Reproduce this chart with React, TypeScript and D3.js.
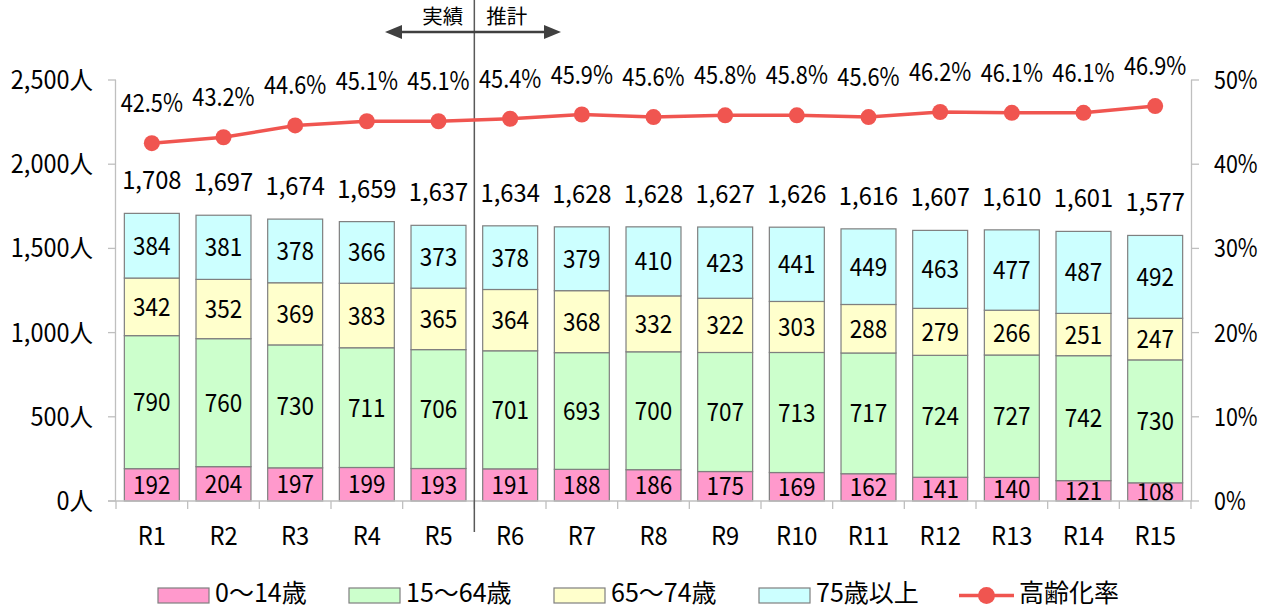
import React from "react";
import * as d3 from "d3";

const categories = ["R1","R2","R3","R4","R5","R6","R7","R8","R9","R10","R11","R12","R13","R14","R15"];
const age0to14 = [192,204,197,199,193,191,188,186,175,169,162,141,140,121,108];
const age15to64 = [790,760,730,711,706,701,693,700,707,713,717,724,727,742,730];
const age65to74 = [342,352,369,383,365,364,368,332,322,303,288,279,266,251,247];
const age75plus = [384,381,378,366,373,378,379,410,423,441,449,463,477,487,492];
const totals = [1708,1697,1674,1659,1637,1634,1628,1628,1627,1626,1616,1607,1610,1601,1577];
const agingRate = [42.5,43.2,44.6,45.1,45.1,45.4,45.9,45.6,45.8,45.8,45.6,46.2,46.1,46.1,46.9];
const leftTicks = [0,500,1000,1500,2000,2500];
const rightTicks = [0,10,20,30,40,50];
const seriesNames = ["0〜14歳","15〜64歳","65〜74歳","75歳以上"];
const seriesColors = ["#FF99CC","#CCFFCC","#FFFFCC","#CCFFFF"];
const lineName = "高齢化率";
const lineColor = "#F05550";
const actualLabel = "実績";
const forecastLabel = "推計";
const splitIndex = 5;

const FONT = "'Noto Sans CJK JP', 'Noto Sans', sans-serif";

function ST({ x, y, text, anchor = "middle", sx = 0.9, fs = 25, dy = "0.36em" }: any) {
  return (
    <text transform={`translate(${x},${y}) scale(${sx},1)`} textAnchor={anchor} dy={dy} fontSize={fs} fill="#000">
      {text}
    </text>
  );
}

export default function App() {
  const W = 1270, H = 609;
  const left = 116, right = 1191, top = 80, bottom = 501;
  const x = d3.scaleBand<string>().domain(categories).range([left, right]).paddingInner(0.233).paddingOuter(0.1165);
  const y = d3.scaleLinear().domain([0, 2500]).range([bottom, top]);
  const y2 = d3.scaleLinear().domain([0, 50]).range([bottom, top]);
  const rows = categories.map((c, i) => ({ c, s0: age0to14[i], s1: age15to64[i], s2: age65to74[i], s3: age75plus[i] }));
  const keys = ["s0","s1","s2","s3"];
  const stack = d3.stack<any>().keys(keys)(rows);
  const cx = (c: string) => (x(c) as number) + x.bandwidth() / 2;
  const line = d3.line<number>().x((_, i) => cx(categories[i])).y(d => y2(d));
  const fmt = d3.format(",");
  const step = x.step();
  const splitX = left + step * splitIndex;
  const arrowY = 32;
  const axisC = "#BFBFBF";

  return (
    <svg width={W} height={H} style={{ position: "absolute", left: 0, top: 0, background: "#fff" }} fontFamily={FONT}>
      <rect width={W} height={H} fill="#fff" />
      {/* axes */}
      <line x1={left - 0.5} x2={left - 0.5} y1={top} y2={bottom} stroke={axisC} strokeWidth={1.3} />
      <line x1={right + 0.5} x2={right + 0.5} y1={top} y2={bottom} stroke={axisC} strokeWidth={1.3} />
      {leftTicks.map(t => (
        <g key={"l" + t}>
          <line x1={left - 8} x2={left} y1={y(t)} y2={y(t)} stroke={axisC} strokeWidth={1.3} />
          <ST x={93} y={y(t)} text={fmt(t) + "人"} anchor="end" sx={0.94} />
        </g>
      ))}
      {rightTicks.map(t => (
        <g key={"r" + t}>
          <line x1={right} x2={right + 8} y1={y2(t)} y2={y2(t)} stroke={axisC} strokeWidth={1.3} />
          <ST x={1214} y={y2(t)} text={t + "%"} anchor="start" sx={0.86} />
        </g>
      ))}
      {/* category ticks */}
      {d3.range(categories.length + 1).map(i => (
        <line key={"ct" + i} x1={left + step * i} x2={left + step * i} y1={bottom} y2={bottom + 8} stroke={axisC} strokeWidth={1.3} />
      ))}
      {/* bars */}
      {stack.map((s, si) => (
        <g key={"s" + si}>
          {s.map((d, i) => (
            <g key={i}>
              <rect x={x(categories[i])} y={y(d[1])} width={x.bandwidth()} height={y(d[0]) - y(d[1])}
                fill={seriesColors[si]} stroke="#7F7F7F" strokeWidth={1.2} />
              <ST x={cx(categories[i])} y={(y(d[0]) + y(d[1])) / 2} text={String(d[1] - d[0])} sx={0.9} />
            </g>
          ))}
        </g>
      ))}
      <line x1={left} x2={right} y1={bottom} y2={bottom} stroke={axisC} strokeWidth={1.3} />
      <line x1={left - 8} x2={left} y1={bottom} y2={bottom} stroke={axisC} strokeWidth={1.3} />
      {/* totals */}
      {totals.map((t, i) => (
        <ST key={"t" + i} x={cx(categories[i])} y={y(t) - 24} text={fmt(t)} dy="0" sx={0.95} />
      ))}
      {/* category labels */}
      {categories.map(c => (
        <ST key={"c" + c} x={cx(c)} y={536} text={c} sx={0.95} />
      ))}
      {/* divider */}
      <line x1={splitX} x2={splitX} y1={0} y2={532} stroke="#595959" strokeWidth={1.5} />
      {/* arrows */}
      <line x1={395} x2={551} y1={arrowY} y2={arrowY} stroke="#404040" strokeWidth={2.5} />
      <path d={`M385,${arrowY} L402,${arrowY - 7} L402,${arrowY + 7} Z`} fill="#404040" />
      <path d={`M561,${arrowY} L544,${arrowY - 7} L544,${arrowY + 7} Z`} fill="#404040" />
      <text x={splitX - 11} y={17} dy="0.36em" textAnchor="end" fontSize={20.5} fill="#000">{actualLabel}</text>
      <text x={splitX + 12} y={17} dy="0.36em" textAnchor="start" fontSize={20.5} fill="#000">{forecastLabel}</text>
      {/* line */}
      <path d={line(agingRate) || ""} fill="none" stroke={lineColor} strokeWidth={3.5} />
      {agingRate.map((r, i) => (
        <g key={"p" + i}>
          <circle cx={cx(categories[i])} cy={y2(r)} r={8} fill={lineColor} />
          <ST x={cx(categories[i])} y={y2(r) - 40} text={r.toFixed(1) + "%"} sx={0.87} />
        </g>
      ))}
      {/* legend */}
      {seriesNames.map((n, i) => {
        const lx = [158, 349, 554, 759][i];
        return (
          <g key={"lg" + i}>
            <rect x={lx} y={588} width={51} height={15} fill={seriesColors[i]} stroke="#7F7F7F" strokeWidth={1.2} />
            <text x={lx + 57} y={593} dy="0.36em" fontSize={25} fill="#000">{n}</text>
          </g>
        );
      })}
      <line x1={959} x2={1014} y1={595.5} y2={595.5} stroke={lineColor} strokeWidth={3.5} />
      <circle cx={986.5} cy={595.5} r={8.5} fill={lineColor} />
      <text x={1019} y={593} dy="0.36em" fontSize={25} fill="#000">{lineName}</text>
    </svg>
  );
}
